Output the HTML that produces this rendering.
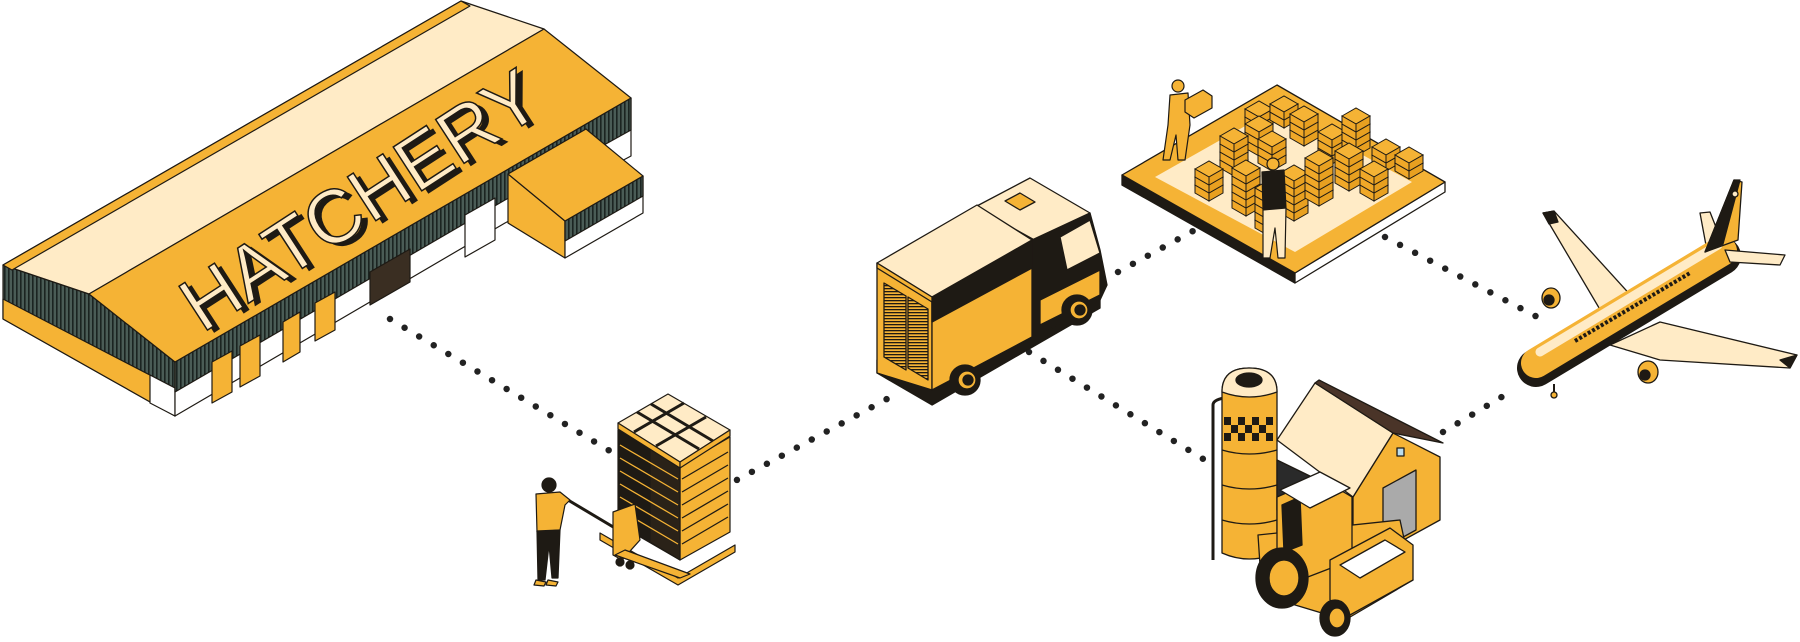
<!DOCTYPE html>
<html><head><meta charset="utf-8"><style>html,body{margin:0;padding:0;background:#fff}svg{display:block}</style></head>
<body>
<svg width="1800" height="642" viewBox="0 0 1800 642" xmlns="http://www.w3.org/2000/svg">
<defs>
<pattern id="str" width="4" height="10" patternUnits="userSpaceOnUse"><rect width="4" height="10" fill="#4a5c56"/><rect width="1.6" height="10" fill="#1b2421"/></pattern>
<pattern id="crt" width="10" height="3" patternUnits="userSpaceOnUse"><rect width="10" height="3" fill="#f5b335"/><rect width="10" height="1.3" fill="#1e1a14"/></pattern>
<g id="box">
<polygon points="0,0 14,-8 28,0 14,8" fill="#f5b335" stroke="#1e1a14" stroke-width="1"/>
<polygon points="0,0 14,8 14,16 0,8" fill="#f0a828" stroke="#1e1a14" stroke-width="1"/>
<polygon points="14,8 28,0 28,8 14,16" fill="#e8a020" stroke="#1e1a14" stroke-width="1"/>
</g>
</defs>

<g stroke="#222" stroke-width="6.5" stroke-linecap="round" stroke-dasharray="0 17" fill="none">
<line x1="390" y1="319" x2="620" y2="457"/>
<line x1="722" y1="488" x2="898" y2="393"/>
<line x1="1118" y1="272" x2="1193" y2="231"/>
<line x1="1029" y1="352" x2="1213" y2="465"/>
<line x1="1385" y1="237" x2="1543" y2="320"/>
<line x1="1443" y1="432" x2="1515" y2="389"/>
</g>

<!-- HATCHERY building -->
<g stroke="#1e1a14" stroke-width="1.2" stroke-linejoin="round">
<polygon points="3,265 89,294 175,362 175,416 3,319" fill="url(#str)"/>
<polygon points="3,299 175,388 175,416 3,319" fill="#f5b335"/>
<polygon points="150,375 175,388 175,416 150,403" fill="#fff"/>
<polygon points="175,362 631,98 631,156 505,223 175,416" fill="#fff"/>
<polygon points="175,362 631,98 631,130 505,200 175,392" fill="url(#str)"/>
<polygon points="212,362 232,351 232,392 212,403" fill="#f5b335"/>
<polygon points="240,346 260,335 260,376 240,387" fill="#f5b335"/>
<polygon points="283,322 300,312 300,352 283,362" fill="#f5b335"/>
<polygon points="315,303 335,292 335,330 315,341" fill="#f5b335"/>
<polygon points="370,272 410,249 410,282 370,305" fill="#3a2e22"/>
<polygon points="465,215 495,198 495,240 465,257" fill="#fff"/>
<polygon points="508,174 565,221 565,258 508,223" fill="#f5b335"/>
<polygon points="565,221 643,176 643,213 565,258" fill="#fff"/>
<polygon points="565,221 643,176 643,196 565,241" fill="url(#str)"/>
<polygon points="3,265 461,1 544,29 89,294" fill="#ffebc6"/>
<polygon points="3,265 461,1 470,6 12,270" fill="#f5b335"/>
<polygon points="89,294 544,29 631,98 175,362" fill="#f5b335"/>
<polygon points="508,174 586,129 643,176 565,221" fill="#f5b335"/>
</g>
<g transform="translate(360,200) rotate(-33)" font-family="Liberation Sans, sans-serif" font-size="76" text-anchor="middle">
<text x="4" y="32" fill="#1e1a14" textLength="410" lengthAdjust="spacingAndGlyphs">HATCHERY</text>
<text x="0" y="26" fill="#ffebc6" stroke="#1e1a14" stroke-width="1.5" textLength="410" lengthAdjust="spacingAndGlyphs">HATCHERY</text>
</g>

<!-- Pallet + person -->
<g stroke="#1e1a14" stroke-width="1.2" stroke-linejoin="round">
<polygon points="600,540 678,585 735,552 735,545 678,578 600,533" fill="#f5b335"/>
<polygon points="618,430 680,466 680,560 618,524" fill="#1e1a14"/>
<polygon points="680,466 730,437 730,532 680,560" fill="#f5b335"/>
<polygon points="650,448 680,466 680,560 650,542" fill="#2a2218"/>
<g stroke="#f5b335" stroke-width="1.3">
<line x1="620" y1="445" x2="678" y2="479"/><line x1="620" y1="458" x2="678" y2="492"/><line x1="620" y1="471" x2="678" y2="505"/><line x1="620" y1="484" x2="678" y2="518"/><line x1="620" y1="497" x2="678" y2="531"/><line x1="620" y1="510" x2="678" y2="544"/>
</g>
<g stroke="#1e1a14" stroke-width="1.3">
<line x1="682" y1="479" x2="728" y2="452"/><line x1="682" y1="492" x2="728" y2="465"/><line x1="682" y1="505" x2="728" y2="478"/><line x1="682" y1="518" x2="728" y2="491"/><line x1="682" y1="531" x2="728" y2="504"/><line x1="682" y1="544" x2="728" y2="517"/>
</g>
<polygon points="618,423 668,394 730,430 680,462" fill="#ffebc6"/>
<polygon points="618,423 680,462 680,468 618,429" fill="#f5b335"/>
<polygon points="680,462 730,430 730,436 680,468" fill="#f5b335"/>
<g stroke="#1e1a14" stroke-width="3"><line x1="637" y1="412" x2="699" y2="449"/><line x1="651" y1="404" x2="713" y2="441"/><line x1="634" y1="432" x2="684" y2="403"/><line x1="656" y1="446" x2="706" y2="417"/></g>
<line x1="568" y1="500" x2="630" y2="537" stroke="#1e1a14" stroke-width="3"/>
<polygon points="613,512 635,504 640,540 622,560 613,555" fill="#f5b335"/>
<polygon points="615,555 680,578 690,574 625,550" fill="#f5b335"/>
<circle cx="620" cy="562" r="4" fill="#1e1a14"/><circle cx="630" cy="565" r="4" fill="#1e1a14"/>
<path d="M536,494 L560,492 L570,500 L565,505 L560,530 L537,532 Z" fill="#f5b335"/>
<path d="M537,531 L560,530 L558,578 L552,578 L549,545 L545,580 L538,580 Z" fill="#1e1a14"/>
<circle cx="549" cy="485" r="7" fill="#1e1a14"/>
<polygon points="536,580 546,582 544,586 534,585" fill="#f5b335"/>
<polygon points="548,580 558,582 556,586 546,585" fill="#f5b335"/>
</g>

<!-- Truck -->
<g stroke="#1e1a14" stroke-width="1.3" stroke-linejoin="round">
<polygon points="877,373 932,405 1100,308 1100,298 932,390 877,360" fill="#1e1a14"/>
<polygon points="975,207 1030,178 1090,213 1038,242" fill="#ffebc6"/>
<polygon points="1032,240 1090,213 1100,250 1107,285 1100,300 1040,335 1032,337" fill="#1e1a14"/>
<polygon points="1060,237 1090,220 1100,253 1067,270" fill="#ffebc6"/>
<polygon points="1005,201 1020,193 1035,202 1020,210" fill="#f5b335"/>
<polygon points="1040,300 1100,270 1100,295 1040,325" fill="#f5b335"/>
<polygon points="877,263 932,297 932,390 877,373" fill="#f5b335"/>
<polygon points="884,283 906,296 906,370 884,357" fill="url(#crt)"/>
<polygon points="908,297 928,309 928,380 908,368" fill="url(#crt)"/>
<polygon points="932,297 1032,240 1032,337 932,390" fill="#f5b335"/>
<polygon points="932,297 1032,240 1032,268 932,322" fill="#1e1a14"/>
<polygon points="877,263 977,205 1032,240 932,297" fill="#ffebc6"/>
<polygon points="877,263 932,297 932,302 877,268" fill="#f5b335"/>
<circle cx="965" cy="380" r="15" fill="#1e1a14"/><circle cx="967" cy="380" r="9" fill="#f5b335"/><circle cx="968" cy="380" r="5" fill="#1e1a14"/>
<circle cx="1077" cy="310" r="15" fill="#1e1a14"/><circle cx="1079" cy="310" r="9" fill="#f5b335"/><circle cx="1080" cy="310" r="5" fill="#1e1a14"/>
</g>

<!-- Warehouse platform -->
<g stroke="#1e1a14" stroke-width="1.3" stroke-linejoin="round">
<polygon points="1122,175 1295,273 1295,283 1122,185" fill="#1e1a14"/>
<polygon points="1295,273 1445,182 1445,192 1295,283" fill="#fff"/>
<polygon points="1122,175 1277,85 1445,182 1295,273" fill="#f5b335"/>
<polygon points="1155,177 1277,108 1412,182 1295,252" fill="#ffebc6" stroke="none"/>
</g>
<g>
<use href="#box" x="1245" y="117"/><use href="#box" x="1245" y="109"/>
<use href="#box" x="1270" y="112"/><use href="#box" x="1270" y="104"/>
<use href="#box" x="1245" y="140"/><use href="#box" x="1245" y="132"/><use href="#box" x="1245" y="124"/>
<use href="#box" x="1290" y="130"/><use href="#box" x="1290" y="122"/><use href="#box" x="1290" y="114"/>
<use href="#box" x="1220" y="160"/><use href="#box" x="1220" y="152"/><use href="#box" x="1220" y="144"/><use href="#box" x="1220" y="136"/>
<use href="#box" x="1258" y="155"/><use href="#box" x="1258" y="147"/><use href="#box" x="1258" y="139"/>
<use href="#box" x="1318" y="148"/><use href="#box" x="1318" y="140"/><use href="#box" x="1318" y="132"/>
<use href="#box" x="1342" y="140"/><use href="#box" x="1342" y="132"/><use href="#box" x="1342" y="124"/><use href="#box" x="1342" y="116"/>
<use href="#box" x="1372" y="155"/><use href="#box" x="1372" y="147"/>
<use href="#box" x="1395" y="163"/><use href="#box" x="1395" y="155"/>
<use href="#box" x="1195" y="185"/><use href="#box" x="1195" y="177"/><use href="#box" x="1195" y="169"/>
<use href="#box" x="1232" y="200"/><use href="#box" x="1232" y="192"/><use href="#box" x="1232" y="184"/><use href="#box" x="1232" y="176"/><use href="#box" x="1232" y="168"/>
<use href="#box" x="1280" y="205"/><use href="#box" x="1280" y="197"/><use href="#box" x="1280" y="189"/><use href="#box" x="1280" y="181"/><use href="#box" x="1280" y="173"/>
<use href="#box" x="1305" y="190"/><use href="#box" x="1305" y="182"/><use href="#box" x="1305" y="174"/><use href="#box" x="1305" y="166"/><use href="#box" x="1305" y="158"/>
<use href="#box" x="1335" y="175"/><use href="#box" x="1335" y="167"/><use href="#box" x="1335" y="159"/><use href="#box" x="1335" y="151"/>
<use href="#box" x="1255" y="220"/><use href="#box" x="1255" y="212"/><use href="#box" x="1255" y="204"/><use href="#box" x="1255" y="196"/><use href="#box" x="1255" y="188"/>
<use href="#box" x="1360" y="185"/><use href="#box" x="1360" y="177"/><use href="#box" x="1360" y="169"/>
</g>
<g stroke="#1e1a14" stroke-width="1.2" stroke-linejoin="round">
<path d="M1170,95 L1188,93 L1190,125 L1185,160 L1178,160 L1176,135 L1170,160 L1163,160 L1168,125 Z" fill="#f5b335"/>
<circle cx="1178" cy="86" r="6" fill="#f5b335"/>
<polygon points="1185,100 1203,90 1212,96 1212,108 1194,118 1185,112" fill="#f5b335"/>
<circle cx="1273" cy="164" r="6" fill="#f5b335"/>
<polygon points="1262,172 1284,170 1286,208 1263,210" fill="#1e1a14"/>
<path d="M1263,210 L1286,208 L1285,258 L1278,258 L1275,228 L1270,258 L1263,258 Z" fill="#ffebc6"/>
</g>

<!-- Plane -->
<g stroke="#1e1a14" stroke-width="1.3" stroke-linejoin="round">
<polygon points="1543,213 1554,211 1635,300 1605,318" fill="#ffebc6"/>
<polygon points="1543,213 1554,211 1558,222 1549,224" fill="#1e1a14"/>
<ellipse cx="1551" cy="298" rx="9" ry="10" fill="#f5b335"/><circle cx="1549" cy="300" r="5" fill="#1e1a14"/>
<polygon points="1700,213 1710,212 1725,250 1708,256" fill="#ffebc6"/>
<line x1="1536" y1="368" x2="1722" y2="256" stroke="#1e1a14" stroke-width="38" stroke-linecap="round"/>
<line x1="1536" y1="363" x2="1722" y2="251" stroke="#f5b335" stroke-width="30" stroke-linecap="round"/>
<line x1="1540" y1="352" x2="1718" y2="245" stroke="#ffebc6" stroke-width="9" stroke-linecap="round"/>
<line x1="1575" y1="341" x2="1690" y2="273" stroke="#1e1a14" stroke-width="4" stroke-dasharray="3 2"/>
<polygon points="1705,252 1734,180 1742,182 1738,240" fill="#f5b335"/>
<polygon points="1705,252 1734,180 1740,180 1723,244" fill="#1e1a14"/>
<circle cx="1735" cy="194" r="3" fill="#ffebc6"/>
<polygon points="1725,250 1785,255 1780,265 1730,262" fill="#ffebc6"/>
<polygon points="1610,345 1660,322 1797,355 1790,368 1660,360" fill="#ffebc6"/>
<polygon points="1780,360 1797,355 1790,368" fill="#1e1a14"/>
<ellipse cx="1648" cy="372" rx="10" ry="11" fill="#f5b335"/><circle cx="1645" cy="375" r="5" fill="#1e1a14"/>
<line x1="1554" y1="384" x2="1554" y2="393" stroke-width="2"/><circle cx="1554" cy="395" r="3" fill="#f5b335"/>
</g>

<!-- Farm -->
<g stroke="#1e1a14" stroke-width="1.3" stroke-linejoin="round">
<path d="M1213,560 L1213,405 Q1213,400 1224,398" fill="none" stroke-width="3"/>
<path d="M1222,553 L1222,392 Q1222,368 1249,368 Q1277,368 1277,392 L1277,553 Q1249,565 1222,553 Z" fill="#f5b335"/>
<path d="M1222,392 Q1222,368 1249,368 Q1277,368 1277,392 Q1249,402 1222,392 Z" fill="#ffebc6"/>
<ellipse cx="1249" cy="380" rx="13" ry="7" fill="#1e1a14"/>
<g fill="#1e1a14" stroke="none">
<rect x="1224" y="417" width="7" height="8"/><rect x="1238" y="417" width="7" height="8"/><rect x="1252" y="417" width="7" height="8"/><rect x="1266" y="417" width="7" height="8"/>
<rect x="1231" y="425" width="7" height="8"/><rect x="1245" y="425" width="7" height="8"/><rect x="1259" y="425" width="7" height="8"/>
<rect x="1224" y="433" width="7" height="8"/><rect x="1238" y="433" width="7" height="8"/><rect x="1252" y="433" width="7" height="8"/><rect x="1266" y="433" width="7" height="8"/>
</g>
<path d="M1222,450 Q1249,458 1277,450 M1222,485 Q1249,493 1277,485 M1222,520 Q1249,528 1277,520" fill="none"/>
<polygon points="1277,460 1353,497 1353,540 1277,510" fill="#2a2a2a"/>
<polygon points="1353,497 1393,433 1440,457 1440,520 1380,553 1353,540" fill="#f5b335"/>
<polygon points="1383,488 1416,470 1416,530 1383,548" fill="#aaa"/>
<polygon points="1277,440 1315,383 1393,433 1353,497" fill="#ffebc6"/>
<polygon points="1315,383 1319,380 1443,443 1393,433" fill="#4a3428"/>
<rect x="1397" y="448" width="7" height="8" fill="#bde"/>
<polygon points="1258,535 1400,520 1413,580 1345,620 1262,595" fill="#f5b335"/>
<polygon points="1277,497 1320,478 1352,497 1352,560 1300,580 1277,560" fill="#f5b335"/>
<polygon points="1282,505 1300,497 1302,545 1284,552" fill="#1e1a14"/>
<polygon points="1280,490 1320,472 1350,488 1310,508" fill="#fff"/>
<polygon points="1330,560 1390,528 1413,545 1413,580 1350,615 1330,600" fill="#f5b335"/>
<polygon points="1340,565 1385,540 1405,552 1360,578" fill="#fff"/>
<ellipse cx="1282" cy="578" rx="26" ry="30" fill="#1e1a14"/><ellipse cx="1284" cy="578" rx="15" ry="18" fill="#f5b335"/>
<ellipse cx="1335" cy="618" rx="15" ry="18" fill="#1e1a14"/><ellipse cx="1337" cy="618" rx="8" ry="10" fill="#f5b335"/>
</g>
</svg>
</body></html>
